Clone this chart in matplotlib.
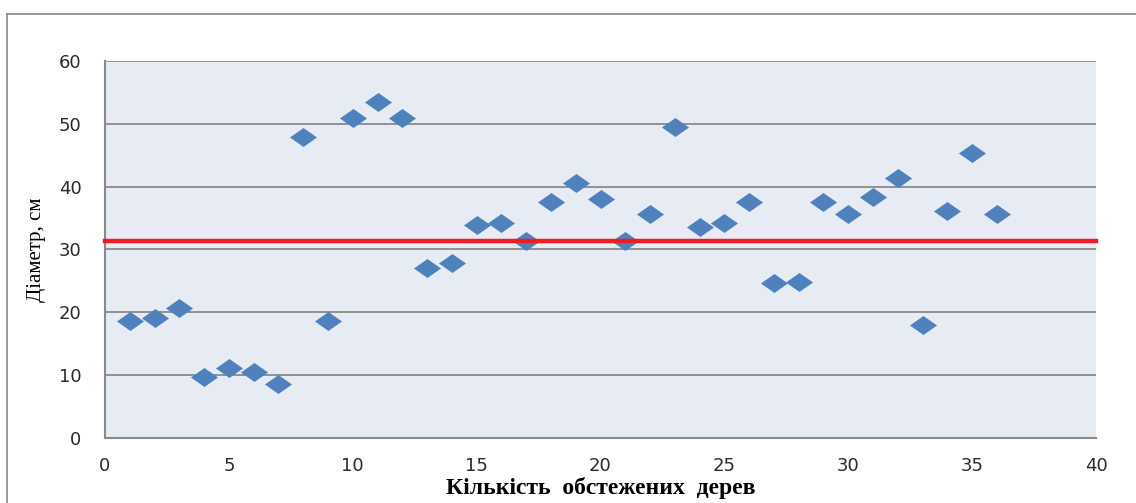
import matplotlib
matplotlib.use("Agg")
import matplotlib.pyplot as plt
from matplotlib.lines import Line2D

# Observations: tree number and measured trunk diameter (cm)
tree_no = list(range(1, 37))
diameter = [18.6, 19.0, 20.6, 9.6, 11.1, 10.5, 8.6, 47.9, 18.6, 51.0,
            53.4, 51.0, 27.1, 27.8, 33.8, 34.2, 31.4, 37.6, 40.5, 38.0,
            31.4, 35.7, 49.5, 33.5, 34.2, 37.6, 24.7, 24.8, 37.6, 35.7,
            38.3, 41.4, 17.9, 36.1, 45.3, 35.7]
reference_level = 31.4

x_ticks = [0, 5, 10, 15, 20, 25, 30, 35, 40]
y_ticks = [0, 10, 20, 30, 40, 50, 60]

W, H = 1136, 503
fig = plt.figure(figsize=(W / 100, H / 100), dpi=100)
fig.patch.set_facecolor("white")

# outer chart frame (left and top edges visible)
frame_col = "#8a8a8a"
fig.add_artist(Line2D([7 / W, 7 / W], [0, 1 - 14 / H], transform=fig.transFigure,
                      color=frame_col, lw=1.2))
fig.add_artist(Line2D([7 / W, 1], [1 - 14 / H, 1 - 14 / H], transform=fig.transFigure,
                      color=frame_col, lw=1.2))

left, right = 105 / W, 1096 / W
bottom, top = 1 - 437.7 / H, 1 - 61 / H
ax = fig.add_axes([left, bottom, right - left, top - bottom])
ax.set_facecolor("#e7ecf4")

ax.set_xlim(0, 40)
ax.set_ylim(0, 60)
ax.set_xticks(x_ticks)
ax.set_yticks(y_ticks)
ax.set_xticklabels([str(v) for v in x_ticks])
ax.set_yticklabels([str(v) for v in y_ticks])

for s in ("top", "right"):
    ax.spines[s].set_visible(False)
for s in ("left", "bottom"):
    ax.spines[s].set_color("#8a8a8a")
    ax.spines[s].set_linewidth(1.5)

ax.grid(axis="y", color="#8a8a8a", lw=1.3)
ax.set_axisbelow(True)
ax.tick_params(axis="both", length=0, labelsize=13, colors="#2a2a2a")
ax.tick_params(axis="y", pad=17)
ax.tick_params(axis="x", pad=14)

# wide diamond marker
diamond = [(-1, 0), (0, 0.7), (1, 0), (0, -0.7), (-1, 0)]
ax.plot(tree_no, diameter, linestyle="none", marker=diamond, markersize=19.5,
        color="#4f81bd", markeredgewidth=0, zorder=3)

ax.axhline(reference_level, color="#ee1c25", lw=3.2, zorder=4, clip_on=False)

ax.set_xlabel("Кількість  обстежених  дерев", family="Liberation Serif",
              fontweight="bold", fontsize=17, labelpad=1)
ax.set_ylabel("Діаметр, см", family="Liberation Serif", fontsize=15, labelpad=9)

fig.savefig("out.png", dpi=100, facecolor="white")
